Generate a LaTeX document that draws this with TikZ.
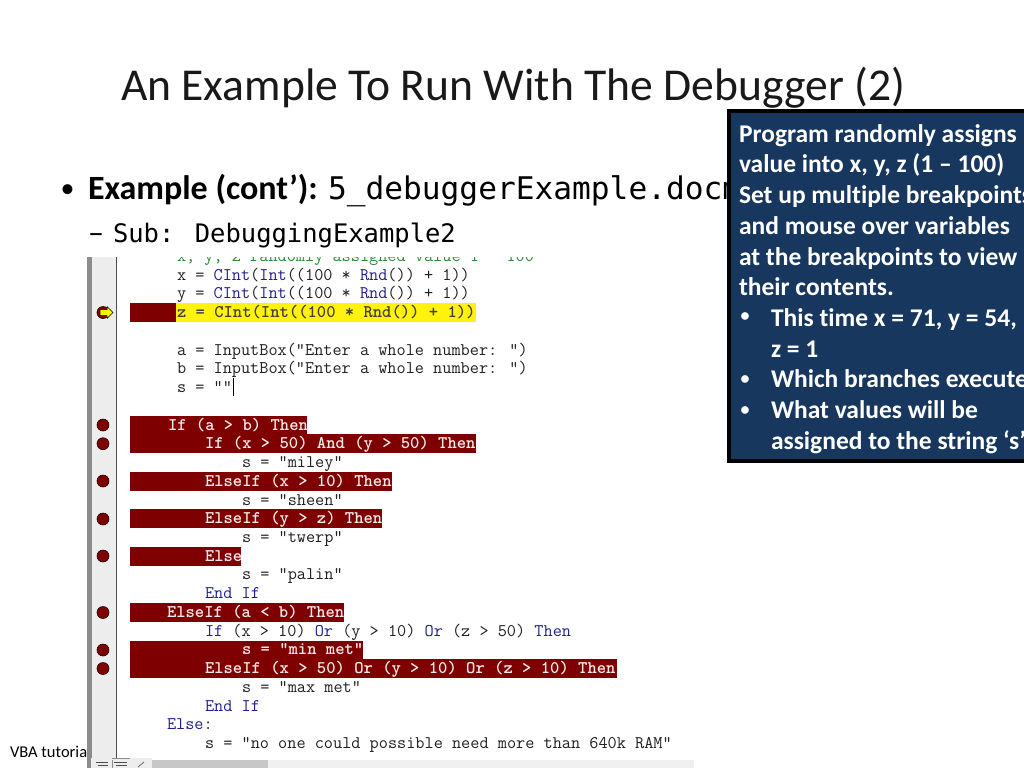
\documentclass[tikz,border=0pt]{standalone}
\usepackage{fontspec}
\setmainfont[Ligatures=NoCommon]{Carlito}
\newfontfamily\slidemono{DejaVu Sans Mono}
\definecolor{bpred}{HTML}{7F0000}
\definecolor{vbablue}{HTML}{1F1F8F}
\definecolor{vbagreen}{HTML}{2E8B3A}
\definecolor{vbatext}{HTML}{202020}
\definecolor{boxblue}{HTML}{17375E}
\newcommand{\kw}[1]{\textcolor{vbablue}{#1}}
\tikzset{
  x=1pt,y=-1pt,
  every node/.style={inner sep=0pt,outer sep=0pt,anchor=base west},
  codeplain/.style={font=\ttfamily\fontsize{17.77}{18}\selectfont\addfontfeature{FakeBold=0.3},text=vbatext},
  codebreak/.style={font=\ttfamily\bfseries\fontsize{17.77}{18}\selectfont\addfontfeature{FakeBold=0.8},text=white!92!bpred},
  codecur/.style={font=\ttfamily\bfseries\fontsize{17.77}{18}\selectfont\addfontfeature{FakeBold=0.8},text=black!85!yellow},
  redbar/.style={fill=bpred},
  breakdot/.style={circle,draw=black!70!bpred,line width=0.6pt,fill=bpred,minimum size=12pt,anchor=center},
  boxline/.style={font=\bfseries\fontsize{25.5}{30}\selectfont,text=white},
  boxdot/.style={font=\bfseries\fontsize{18}{18}\selectfont,text=white},
}
\begin{document}
\begin{tikzpicture}
\useasboundingbox (0,0) rectangle (1024,768);
\fill[white] (0,0) rectangle (1024,768);
% slide text
\node[font=\fontsize{45.6}{52}\selectfont,text=black!90] (title) at (121,100) {An Example To Run With The Debugger (2)};
\node[font=\fontsize{28}{38}\selectfont] (bullet1) at (60.5,197.5) {•};
\node[font=\fontsize{34}{38}\selectfont] (ex) at (88,199) {\textbf{Example (cont’):}};
\node[font=\slidemono\fontsize{31.2}{36}\selectfont] (file) at (328,199) {5\_debuggerExample.docm};
\node[font=\fontsize{32}{34}\selectfont] (dash1) at (88,243) {–};
\node[font=\slidemono\fontsize{25.5}{32}\selectfont] (sub) at (113,242) {Sub: DebuggingExample2};
\node[font=\fontsize{16.5}{20}\selectfont] (foot) at (10,757) {VBA tutorial};
% editor window
\fill[white] (87,257) rectangle (694,768);
\fill[black!7] (91,257) rectangle (116,768);
\fill[black!45] (87,257) rectangle (91.5,768);
\fill[black!70] (115.5,257) rectangle (117,768);
% red bars
\fill[redbar] (130,303) rectangle (176,321.5);
\fill[yellow!95!white] (176,303) rectangle (476,321.5);
\fill[redbar] (130,415.5) rectangle (307,434);
\fill[redbar] (130,434) rectangle (476,453);
\fill[redbar] (130,472) rectangle (392,490.5);
\fill[redbar] (130,509) rectangle (382,528);
\fill[redbar] (130,547) rectangle (241,565.5);
\fill[redbar] (130,603) rectangle (344,621.5);
\fill[redbar] (130,640.5) rectangle (363,659);
\fill[redbar] (130,659) rectangle (617,678);
% code
\begin{scope}
\clip (117,257) rectangle (694,760);
\node[codeplain,text=vbagreen] (c0) at (177,261) {x, y, z randomly assigned value 1 - 100};
\node[codeplain] (c1) at (177,280) {x = \kw{CInt}(\kw{Int}((100 * \kw{Rnd}()) + 1))};
\node[codeplain] (c2) at (177,298.5) {y = \kw{CInt}(\kw{Int}((100 * \kw{Rnd}()) + 1))};
\node[codecur] (c3) at (177,317) {z = CInt(Int((100 * Rnd()) + 1))};
\node[codeplain] (c4) at (177,355) {a = InputBox("Enter a whole number: ")};
\node[codeplain] (c5) at (177,373.5) {b = InputBox("Enter a whole number: ")};
\node[codeplain] (c6) at (177,392) {s = ""};
\node[codebreak] (c7) at (168,430) {If (a > b) Then};
\node[codebreak] (c8) at (205,448.5) {If (x > 50) And (y > 50) Then};
\node[codeplain] (c9) at (242,467) {s = "miley"};
\node[codebreak] (c10) at (205,486) {ElseIf (x > 10) Then};
\node[codeplain] (c11) at (242,505) {s = "sheen"};
\node[codebreak] (c12) at (205,523.5) {ElseIf (y > z) Then};
\node[codeplain] (c13) at (242,542) {s = "twerp"};
\node[codebreak] (c14) at (205,561) {Else};
\node[codeplain] (c15) at (242,579.5) {s = "palin"};
\node[codeplain] (c16) at (205,598) {\kw{End If}};
\node[codebreak] (c17) at (167,617) {ElseIf (a < b) Then};
\node[codeplain] (c18) at (205,636) {\kw{If} (x > 10) \kw{Or} (y > 10) \kw{Or} (z > 50) \kw{Then}};
\node[codebreak] (c19) at (242,654.5) {s = "min met"};
\node[codebreak] (c20) at (205,673) {ElseIf (x > 50) Or (y > 10) Or (z > 10) Then};
\node[codeplain] (c21) at (242,692) {s = "max met"};
\node[codeplain] (c22) at (205,711) {\kw{End If}};
\node[codeplain] (c23) at (167,729.5) {\kw{Else}:};
\node[codeplain] (c24) at (205,748) {s = "no one could possible need more than 640k RAM"};
\end{scope}
\draw[black,line width=1pt] (233.5,378) -- (233.5,396);
% breakpoint markers
\foreach \n/\yy in {a/425,b/443.7,c/481,d/519,e/556,f/612.5,g/650,h/668.5}
  \node[breakdot] (dot\n) at (103,\yy) {};
\node[breakdot] (dotz) at (103,312.5) {};
\fill[yellow,draw=black,line width=0.5pt] (100,309.5) -- (107,309.5) -- (107,306.5) -- (113,312.5) -- (107,318.5) -- (107,315.5) -- (100,315.5) -- cycle;
% scroll bar and small icons
\fill[black!6] (117,760) rectangle (694,768);
\fill[black!22] (152,760) rectangle (268,768);
\fill[black!7] (91,758) rectangle (152,768);
\draw[black!70,line width=0.8pt] (96,762) -- (108,762) (98,765) -- (108,765)
  (114,762) -- (127,762) (116,765) -- (127,765);
\draw[black!45,line width=0.8pt] (112,760) -- (112,768) (112,758.5) -- (130,758.5);
\draw[black!60,line width=0.8pt] (138,767) -- (144,762);
% callout
\node[rectangle,draw=black,line width=4pt,fill=boxblue,anchor=north west,minimum width=320pt,minimum height=350pt] (callout) at (729,111) {};
\node[boxline] (b1) at (739,142) {Program randomly assigns};
\node[boxline] (b2) at (739,172.5) {value into x, y, z (1 – 100)};
\node[boxline] (b3) at (739,203) {Set up multiple breakpoints};
\node[boxline] (b4) at (739,234) {and mouse over variables};
\node[boxline] (b5) at (739,265) {at the breakpoints to view};
\node[boxline] (b6) at (739,295.5) {their contents.};
\node[boxdot] (d7) at (740.5,321) {•};
\node[boxline] (b7) at (771,326) {This time x = 71, y = 54,};
\node[boxline] (b8) at (771,357) {z = 1};
\node[boxdot] (d9) at (740.5,384) {•};
\node[boxline] (b9) at (771,387.5) {Which branches execute};
\node[boxdot] (d10) at (740.5,415) {•};
\node[boxline] (b10) at (771,418) {What values will be};
\node[boxline] (b11) at (771,449) {assigned to the string ‘s’};
\end{tikzpicture}
\end{document}
